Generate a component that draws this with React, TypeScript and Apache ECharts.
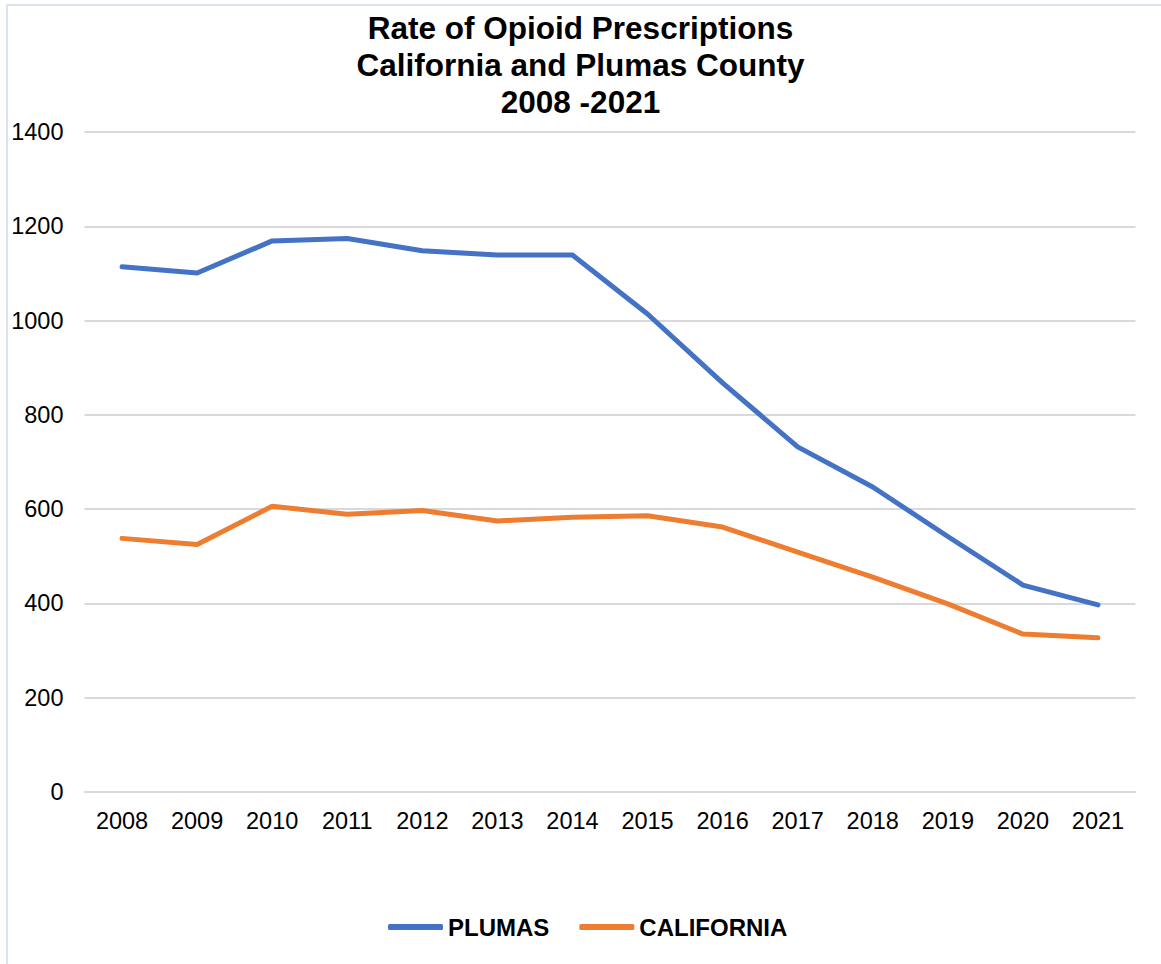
import React, { useEffect, useRef } from "react";
import * as echarts from "echarts";

const years = ["2008", "2009", "2010", "2011", "2012", "2013", "2014", "2015", "2016", "2017", "2018", "2019", "2020", "2021"];
const plumas = [1114, 1101, 1169, 1174, 1148, 1139, 1139, 1014, 868, 732, 647, 542, 439, 397];
const california = [538, 525, 606, 589, 597, 575, 583, 586, 562, 509, 456, 399, 335, 327];
const titleLines = ["Rate of Opioid Prescriptions", "California and Plumas County", "2008 -2021"];

export default function App() {
  const ref = useRef<HTMLDivElement>(null);
  useEffect(() => {
    if (!ref.current) return;
    const chart = echarts.init(ref.current, null, { renderer: "svg" });
    const font = "Liberation Sans, Arial, sans-serif";
    chart.setOption({
      animation: false,
      backgroundColor: "#ffffff",
      textStyle: { fontFamily: font },
      title: {
        text: titleLines.join("\n"),
        left: "center",
        top: 9,
        padding: 0,
        textStyle: { fontSize: 31.5, fontWeight: "bold", color: "#000", lineHeight: 37, fontFamily: font },
      },
      graphic: [
        {
          type: "rect",
          shape: { x: 7, y: 5, width: 1300, height: 1100 },
          style: { fill: "none", stroke: "#dce3f0", lineWidth: 2 },
          silent: true,
        },
      ],
      legend: {
        left: 388,
        top: 915,
        padding: 0,
        icon: "roundRect",
        itemWidth: 55,
        itemHeight: 6,
        itemGap: 30,
        textStyle: { fontSize: 24, fontWeight: "bold", color: "#000", fontFamily: font },
        data: ["PLUMAS", "CALIFORNIA"],
      },
      grid: { left: 84.5, right: 25.5, top: 132, bottom: 172, containLabel: false },
      xAxis: {
        type: "category",
        data: years,
        boundaryGap: true,
        axisLine: { show: true, lineStyle: { color: "#d9d9d9", width: 2 } },
        axisTick: { show: false },
        axisLabel: { fontSize: 23.5, color: "#000", margin: 17, fontFamily: font },
      },
      yAxis: {
        type: "value",
        min: 0,
        max: 1400,
        interval: 200,
        axisLine: { show: false },
        axisTick: { show: false },
        axisLabel: { fontSize: 23.5, color: "#000", margin: 21, fontFamily: font, formatter: (v: number) => String(v) },
        splitLine: { lineStyle: { color: "#d9d9d9", width: 2 } },
      },
      series: [
        {
          name: "PLUMAS",
          type: "line",
          data: plumas,
          color: "#4472C4",
          lineStyle: { width: 5, color: "#4472C4", cap: "round", join: "round" },
          showSymbol: false,
          symbol: "none",
        },
        {
          name: "CALIFORNIA",
          type: "line",
          data: california,
          color: "#ED7D31",
          lineStyle: { width: 5, color: "#ED7D31", cap: "round", join: "round" },
          showSymbol: false,
          symbol: "none",
        },
      ],
    });
    return () => chart.dispose();
  }, []);
  return (
    <div
      ref={ref}
      style={{ position: "absolute", left: 0, top: 0, width: 1161, height: 964 }}
    />
  );
}
